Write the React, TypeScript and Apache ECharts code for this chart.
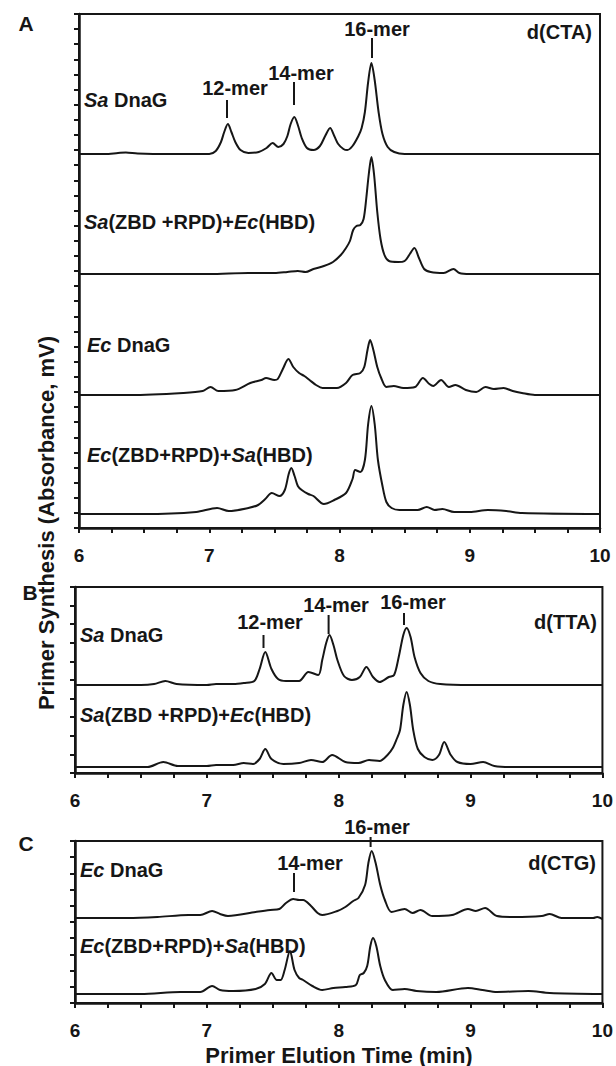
import React, { useEffect, useRef } from "react";
import * as echarts from "echarts";

// Elution time axis (min)
const timeMin = 6;
const timeMax = 10;
const timeStep = 0.25;

// Each trace: [elution time (min), absorbance above its own baseline]
// Panel A – d(CTA)
const aSaDnaG: [number, number][] = [
  [6.0, 0], [6.2, 0], [6.3, 1], [6.36, 1.5], [6.45, 0.5], [6.7, 0], [7.0, 0], [7.05, 3], [7.09, 12],
  [7.115, 22], [7.143, 30], [7.17, 22], [7.2, 12], [7.24, 4], [7.3, 1], [7.38, 2], [7.44, 6],
  [7.487, 11], [7.53, 7], [7.57, 10], [7.6, 18], [7.625, 30], [7.653, 37], [7.68, 29], [7.71, 16],
  [7.75, 6], [7.8, 4], [7.85, 8], [7.89, 18], [7.928, 26], [7.96, 18], [7.99, 10], [8.03, 5],
  [8.06, 4], [8.1, 8], [8.145, 18], [8.17, 26], [8.195, 42], [8.22, 72], [8.245, 91], [8.27, 74],
  [8.3, 42], [8.33, 20], [8.37, 7], [8.42, 2], [8.5, 0], [9.0, 0], [9.5, 0], [10.0, 0],
];
const aSaChimera: [number, number][] = [
  [6.0, 0], [6.5, 0], [7.0, 0], [7.3, 1], [7.5, 1], [7.6, 2], [7.68, 3], [7.74, 2], [7.8, 5],
  [7.88, 8], [7.95, 12], [8.01, 19], [8.05, 26], [8.08, 33], [8.105, 44], [8.13, 48], [8.16, 49],
  [8.185, 55], [8.205, 75], [8.225, 100], [8.245, 117], [8.265, 100], [8.29, 62], [8.315, 35],
  [8.345, 19], [8.38, 13], [8.45, 12], [8.5, 13], [8.54, 20], [8.575, 26], [8.61, 16], [8.65, 5],
  [8.7, 2], [8.8, 1], [8.875, 5], [8.92, 1], [9.0, 0], [9.5, 0], [10.0, 0],
];
const aEcDnaG: [number, number][] = [
  [6.0, 0], [6.4, 0], [6.8, 2], [6.95, 4], [7.01, 8], [7.07, 4], [7.2, 5], [7.315, 12], [7.4, 15],
  [7.436, 17], [7.5, 15], [7.526, 16], [7.565, 26], [7.608, 36], [7.645, 28], [7.69, 22], [7.73, 19],
  [7.77, 15], [7.82, 10], [7.87, 7], [7.98, 7], [8.05, 12], [8.1, 20], [8.16, 22], [8.19, 28],
  [8.215, 45], [8.235, 55], [8.26, 45], [8.29, 28], [8.32, 17], [8.36, 8], [8.416, 9], [8.49, 7],
  [8.58, 8], [8.64, 17], [8.69, 11], [8.72, 9], [8.78, 15], [8.84, 8], [8.89, 10], [8.97, 5],
  [9.05, 3], [9.12, 8], [9.185, 6], [9.26, 7], [9.33, 4], [9.4, 2], [9.5, 0], [10.0, 0],
];
const aEcChimera: [number, number][] = [
  [6.0, 0], [6.5, 0], [6.9, 2], [7.06, 6], [7.15, 3], [7.3, 6], [7.375, 9], [7.43, 15], [7.48, 21],
  [7.54, 18], [7.58, 24], [7.61, 40], [7.63, 46], [7.655, 38], [7.68, 28], [7.71, 24], [7.76, 20],
  [7.8, 18], [7.88, 10], [7.96, 14], [8.05, 21], [8.1, 35], [8.12, 44], [8.16, 42], [8.195, 54],
  [8.22, 90], [8.245, 108], [8.27, 90], [8.295, 54], [8.33, 28], [8.36, 12], [8.4, 6], [8.46, 4],
  [8.6, 4], [8.67, 7], [8.73, 4], [8.79, 5], [8.88, 2], [9.0, 2], [9.14, 4], [9.28, 3], [9.4, 1],
  [10.0, 0],
];

// Panel B – d(TTA)
const bSaDnaG: [number, number][] = [
  [6.0, 0], [6.5, 0], [6.6, 1], [6.685, 4], [6.77, 1], [7.0, 0], [7.07, 1], [7.2, 1], [7.28, 2],
  [7.36, 4], [7.4, 16], [7.443, 33], [7.49, 16], [7.54, 6], [7.6, 4], [7.7, 4], [7.77, 13],
  [7.845, 10], [7.875, 25], [7.905, 42], [7.93, 50], [7.96, 40], [7.99, 25], [8.04, 9], [8.1, 5],
  [8.16, 8], [8.21, 18], [8.26, 8], [8.31, 3], [8.38, 8], [8.42, 10], [8.455, 28], [8.49, 50],
  [8.515, 57], [8.545, 48], [8.575, 28], [8.62, 12], [8.68, 4], [8.77, 1], [9.0, 0], [10.0, 0],
];
const bSaChimera: [number, number][] = [
  [6.0, 0], [6.55, 0], [6.67, 5], [6.78, 1], [7.0, 1], [7.07, 2], [7.2, 2], [7.28, 4], [7.35, 3],
  [7.4, 8], [7.443, 18], [7.49, 8], [7.58, 3], [7.7, 4], [7.79, 7], [7.875, 5], [7.95, 12],
  [8.05, 5], [8.15, 4], [8.23, 7], [8.31, 6], [8.37, 12], [8.41, 19], [8.44, 28], [8.465, 37],
  [8.49, 62], [8.515, 75], [8.54, 62], [8.565, 37], [8.6, 18], [8.65, 10], [8.71, 7], [8.76, 12],
  [8.8, 25], [8.85, 12], [8.9, 5], [9.0, 3], [9.095, 5], [9.18, 1], [9.3, 0], [10.0, 0],
];

// Panel C – d(CTG)
const cEcDnaG: [number, number][] = [
  [6.0, 0], [6.4, 0], [6.625, 1], [6.86, 3], [6.95, 3], [7.04, 7], [7.1, 4], [7.16, 2], [7.37, 6],
  [7.48, 8], [7.55, 9], [7.6, 15], [7.655, 19], [7.7, 18], [7.73, 18], [7.79, 12], [7.84, 5],
  [7.875, 3], [7.99, 7], [8.05, 11], [8.11, 17], [8.15, 20], [8.2, 33], [8.225, 55], [8.25, 67],
  [8.28, 55], [8.315, 33], [8.35, 18], [8.4, 6], [8.5, 9], [8.56, 5], [8.62, 8], [8.71, 2],
  [8.86, 3], [8.98, 9], [9.04, 7], [9.11, 10], [9.2, 2], [9.33, 1], [9.54, 2], [9.6, 4], [9.69, 0],
  [9.93, 0], [9.96, 1], [10.0, -1],
];
const cEcChimera: [number, number][] = [
  [6.0, 0], [6.5, 0], [6.8, 2], [6.95, 2], [7.04, 8], [7.1, 4], [7.2, 3], [7.37, 5], [7.44, 10],
  [7.49, 21], [7.53, 14], [7.56, 14], [7.59, 24], [7.63, 43], [7.665, 24], [7.7, 16], [7.73, 14],
  [7.8, 8], [7.875, 4], [7.96, 6], [8.05, 7], [8.13, 9], [8.16, 19], [8.19, 21], [8.216, 28],
  [8.24, 48], [8.26, 56], [8.285, 48], [8.315, 28], [8.35, 14], [8.41, 4], [8.5, 5], [8.59, 3],
  [8.74, 2], [8.98, 6], [9.09, 4], [9.2, 2], [9.44, 3], [9.6, 1], [10.0, 0],
];

// Vertical offsets (baselines) of the stacked traces in each panel, and panel y ranges
const panelTraces = [
  [aSaDnaG, aSaChimera, aEcDnaG, aEcChimera],
  [bSaDnaG, bSaChimera],
  [cEcDnaG, cEcChimera],
];
const panelBaselines = [
  [374, 254, 133, 14],
  [88, 6],
  [85, 9],
];
const panelYMax = [514, 186, 162];
const panelYTicks = [34, 10, 10];

const FONT = "'Liberation Sans', Arial, Helvetica, sans-serif";
const INK = "#161616";

export default function App() {
  const ref = useRef<HTMLDivElement>(null);

  useEffect(() => {
    if (!ref.current) return;
    const chart = echarts.init(ref.current, undefined, { renderer: "svg" });

    const grids = [
      { left: 79, top: 14, width: 521, height: 514 },
      { left: 75, top: 587, width: 529, height: 186 },
      { left: 75, top: 841, width: 529, height: 162 },
    ];

    const xAxes = grids.map((_, i) => ({
      gridIndex: i,
      type: "value",
      min: timeMin,
      max: timeMax,
      interval: timeStep,
      axisLine: { show: true, lineStyle: { color: INK, width: 2.5 } },
      axisTick: { show: true, length: 5, lineStyle: { color: INK, width: 2 } },
      axisLabel: {
        formatter: (v: number) => (Math.abs(v - Math.round(v)) < 1e-6 ? String(Math.round(v)) : ""),
        fontSize: 19,
        fontWeight: "bold",
        fontFamily: FONT,
        color: INK,
        margin: 18,
      },
      splitLine: { show: false },
    }));

    const yAxes = grids.map((_, i) => ({
      gridIndex: i,
      type: "value",
      min: 0,
      max: panelYMax[i],
      interval: panelYMax[i] / panelYTicks[i],
      axisLine: { show: true, lineStyle: { color: INK, width: 2.5 } },
      axisTick: { show: true, length: 5, lineStyle: { color: INK, width: 2 } },
      axisLabel: { show: false },
      splitLine: { show: false },
    }));

    const series: any[] = [];
    panelTraces.forEach((traces, p) => {
      traces.forEach((trace, k) => {
        series.push({
          type: "line",
          xAxisIndex: p,
          yAxisIndex: p,
          data: trace.map(([t, v]) => [t, v + panelBaselines[p][k]]),
          showSymbol: false,
          smooth: 0.3,
          lineStyle: { color: INK, width: 2 },
          silent: true,
        });
      });
    });

    const bold = `bold 20px ${FONT}`;
    const rich = { i: { fontStyle: "italic", fontWeight: "bold", fontSize: 20, fontFamily: FONT, fill: INK } };
    const label = (text: string, x: number, y: number, align = "left", font = bold) => ({
      type: "text",
      x,
      y,
      silent: true,
      style: {
        text,
        font,
        fill: INK,
        align,
        verticalAlign: "middle",
        textAlign: align,
        textVerticalAlign: "middle",
        rich,
      },
    });
    const lead = (x: number, y1: number, y2: number) => ({
      type: "line",
      silent: true,
      shape: { x1: x, y1, x2: x, y2 },
      style: { stroke: INK, lineWidth: 2 },
    });
    const panelFont = `bold 21px ${FONT}`;

    const graphic = [
      // Panel letters
      label("A", 26, 23, "center", panelFont),
      label("B", 30, 592, "center", panelFont),
      label("C", 26, 843, "center", panelFont),
      // Y title
      {
        type: "text",
        x: 46,
        y: 523,
        rotation: Math.PI / 2,
        silent: true,
        style: {
          text: "Primer Synthesis (Absorbance, mV)",
          font: `bold 22px ${FONT}`,
          fill: INK,
          align: "center",
          verticalAlign: "middle",
          textAlign: "center",
          textVerticalAlign: "middle",
        },
      },
      // X title
      label("Primer Elution Time (min)", 339, 1055, "center", `bold 22px ${FONT}`),
      // Panel A
      label("{i|Sa} DnaG", 84, 100),
      label("{i|Sa}(ZBD +RPD)+{i|Ec}(HBD)", 84, 222),
      label("{i|Ec} DnaG", 87, 345),
      label("{i|Ec}(ZBD+RPD)+{i|Sa}(HBD)", 87, 455),
      label("12-mer", 235, 88, "center"),
      label("14-mer", 301, 73, "center"),
      label("16-mer", 377, 29, "center"),
      label("d(CTA)", 592, 32, "right"),
      lead(227, 100, 118),
      lead(294, 82, 105),
      lead(372, 38, 58),
      // Panel B
      label("{i|Sa} DnaG", 80, 635),
      label("{i|Sa}(ZBD +RPD)+{i|Ec}(HBD)", 80, 715),
      label("12-mer", 270, 622, "center"),
      label("14-mer", 336, 605, "center"),
      label("16-mer", 413, 602, "center"),
      label("d(TTA)", 597, 622, "right"),
      lead(263.5, 635, 648),
      lead(328.6, 615, 634),
      lead(404, 613, 625),
      // Panel C
      label("{i|Ec} DnaG", 80, 870),
      label("{i|Ec}(ZBD+RPD)+{i|Sa}(HBD)", 80, 946),
      label("16-mer", 377, 827, "center"),
      label("14-mer", 310, 863, "center"),
      label("d(CTG)", 596, 863, "right"),
      lead(370.6, 837, 847),
      lead(294, 873, 892),
    ];

    chart.setOption({
      animation: false,
      backgroundColor: "#ffffff",
      grid: grids.map((g) => ({ ...g, show: true, borderColor: INK, borderWidth: 2, containLabel: false })),
      xAxis: xAxes,
      yAxis: yAxes,
      series,
      graphic,
    });

    return () => chart.dispose();
  }, []);

  return (
    <div
      ref={ref}
      style={{ position: "fixed", left: 0, top: 0, width: 616, height: 1066, background: "#fff" }}
    />
  );
}
